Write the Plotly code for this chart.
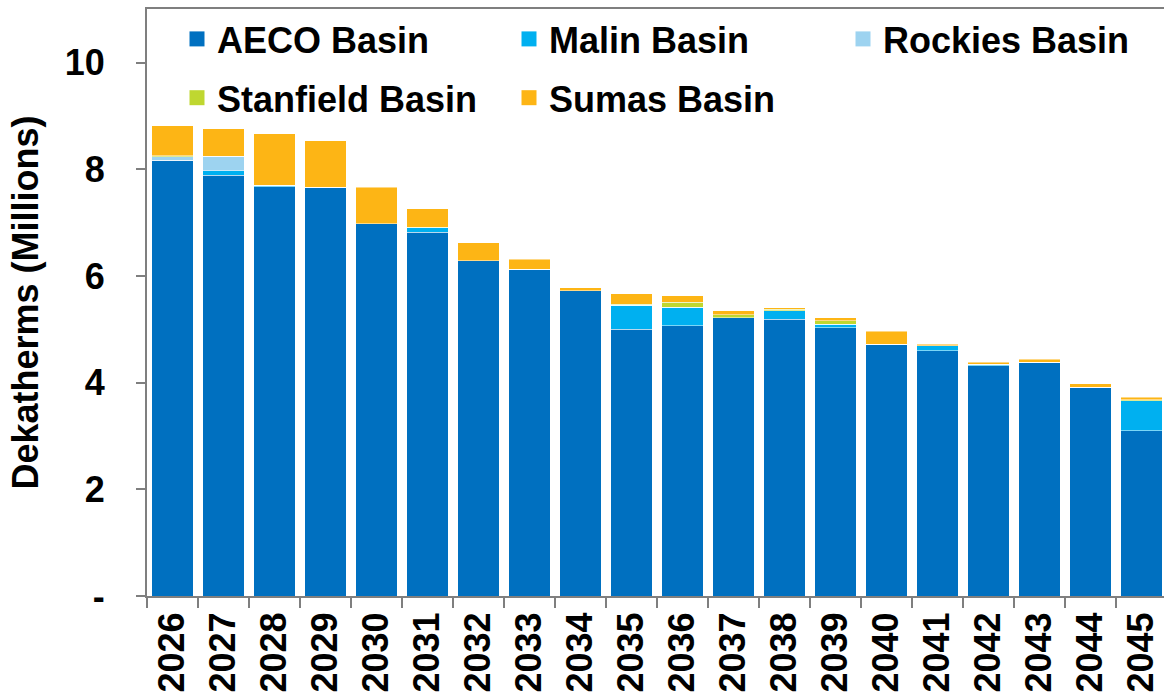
import plotly.graph_objects as go

years = [str(y) for y in range(2026, 2046)]
aeco = [8.17, 7.89, 7.68, 7.67, 6.98, 6.82, 6.29, 6.13, 5.73, 5.00,
        5.07, 5.22, 5.19, 5.03, 4.72, 4.60, 4.32, 4.38, 3.92, 3.10]
malin = [0, 0.09, 0.02, 0, 0, 0.09, 0, 0, 0, 0.45,
         0.35, 0, 0.16, 0.07, 0, 0.09, 0.03, 0, 0, 0.56]
rockies = [0.07, 0.27, 0, 0, 0, 0, 0, 0, 0, 0,
           0, 0, 0, 0, 0, 0, 0, 0, 0, 0]
stanfield = [0.02, 0, 0, 0, 0, 0.01, 0, 0, 0, 0.02,
             0.09, 0.06, 0.03, 0.06, 0, 0, 0, 0, 0, 0.02]
sumas = [0.56, 0.51, 0.97, 0.87, 0.69, 0.34, 0.34, 0.19, 0.05, 0.20,
         0.12, 0.07, 0.03, 0.06, 0.25, 0.03, 0.03, 0.06, 0.06, 0.05]

names = ["AECO Basin", "Malin Basin", "Rockies Basin", "Stanfield Basin", "Sumas Basin"]
values = [aeco, malin, rockies, stanfield, sumas]
colors = ["#0070C0", "#00B0F0", "#9DD3F0", "#BFD730", "#FDB515"]
legend_ids = ["legend", "legend2", "legend3", "legend", "legend2"]

ytick_vals = [0, 2, 4, 6, 8, 10]
ytick_text = ["-", "2", "4", "6", "8", "10"]

FONT = "Liberation Sans, Arial, sans-serif"
FS = 36
fig = go.Figure()
for name, vals, color in zip(names, values, colors):
    fig.add_trace(go.Bar(
        x=years, y=vals, name=name, showlegend=False,
        marker=dict(color=color, line=dict(color="rgba(255,255,255,0.6)", width=0.8)),
    ))
# legend entries (square swatches)
for name, color, lid in zip(names, colors, legend_ids):
    fig.add_trace(go.Scatter(
        x=[None], y=[None], mode="markers", name=name, legend=lid,
        legendgroup=name,
        marker=dict(symbol="square", size=15, color=color),
    ))

W, H = 1164, 700
L, R, T, B = 147, 0, 9, 104
plot_w = W - L - R
cat_w = 51.0
xmax = -0.5 + plot_w / cat_w


def leg(px):
    return dict(
        orientation="v", traceorder="grouped", tracegroupgap=9,
        x=(px - L) / plot_w, y=1.0, xanchor="left", yanchor="top",
        font=dict(family=FONT, size=FS, color="black", weight="bold"),
        bgcolor="rgba(0,0,0,0)", borderwidth=0,
    )


fig.update_layout(
    width=W, height=H,
    margin=dict(l=L, r=R, t=T, b=B),
    barmode="stack", bargap=0.18,
    plot_bgcolor="white", paper_bgcolor="white",
    font=dict(family=FONT, size=FS, color="black", weight="bold"),
    legend=leg(177),
    legend2=leg(509),
    legend3=leg(843),
    xaxis=dict(
        type="category", range=[-0.5, xmax],
        showline=True, linecolor="#7F7F7F", linewidth=2, mirror=True,
        ticks="outside", tickson="boundaries", ticklen=10, tickwidth=2, tickcolor="#7F7F7F",
        tickangle=-90, showgrid=False,
        tickfont=dict(family=FONT, size=FS, color="black", weight="bold"),
    ),
    yaxis=dict(
        range=[0, 11.01], tickvals=ytick_vals, ticktext=ytick_text,
        showline=True, linecolor="#7F7F7F", linewidth=2,
        ticks="outside", ticklen=9, tickwidth=2, tickcolor="#7F7F7F",
        showgrid=False, zeroline=False, ticklabelstandoff=24,
        tickfont=dict(family=FONT, size=FS, color="black", weight="bold"),
    ),
    annotations=[dict(
        text="Dekatherms (Millions)", textangle=-90,
        xref="paper", yref="paper", x=(25 - L) / plot_w, y=0.5,
        xanchor="center", yanchor="middle", showarrow=False,
        font=dict(family=FONT, size=FS, color="black", weight="bold"),
    )],
)

fig.write_html("out.html")
